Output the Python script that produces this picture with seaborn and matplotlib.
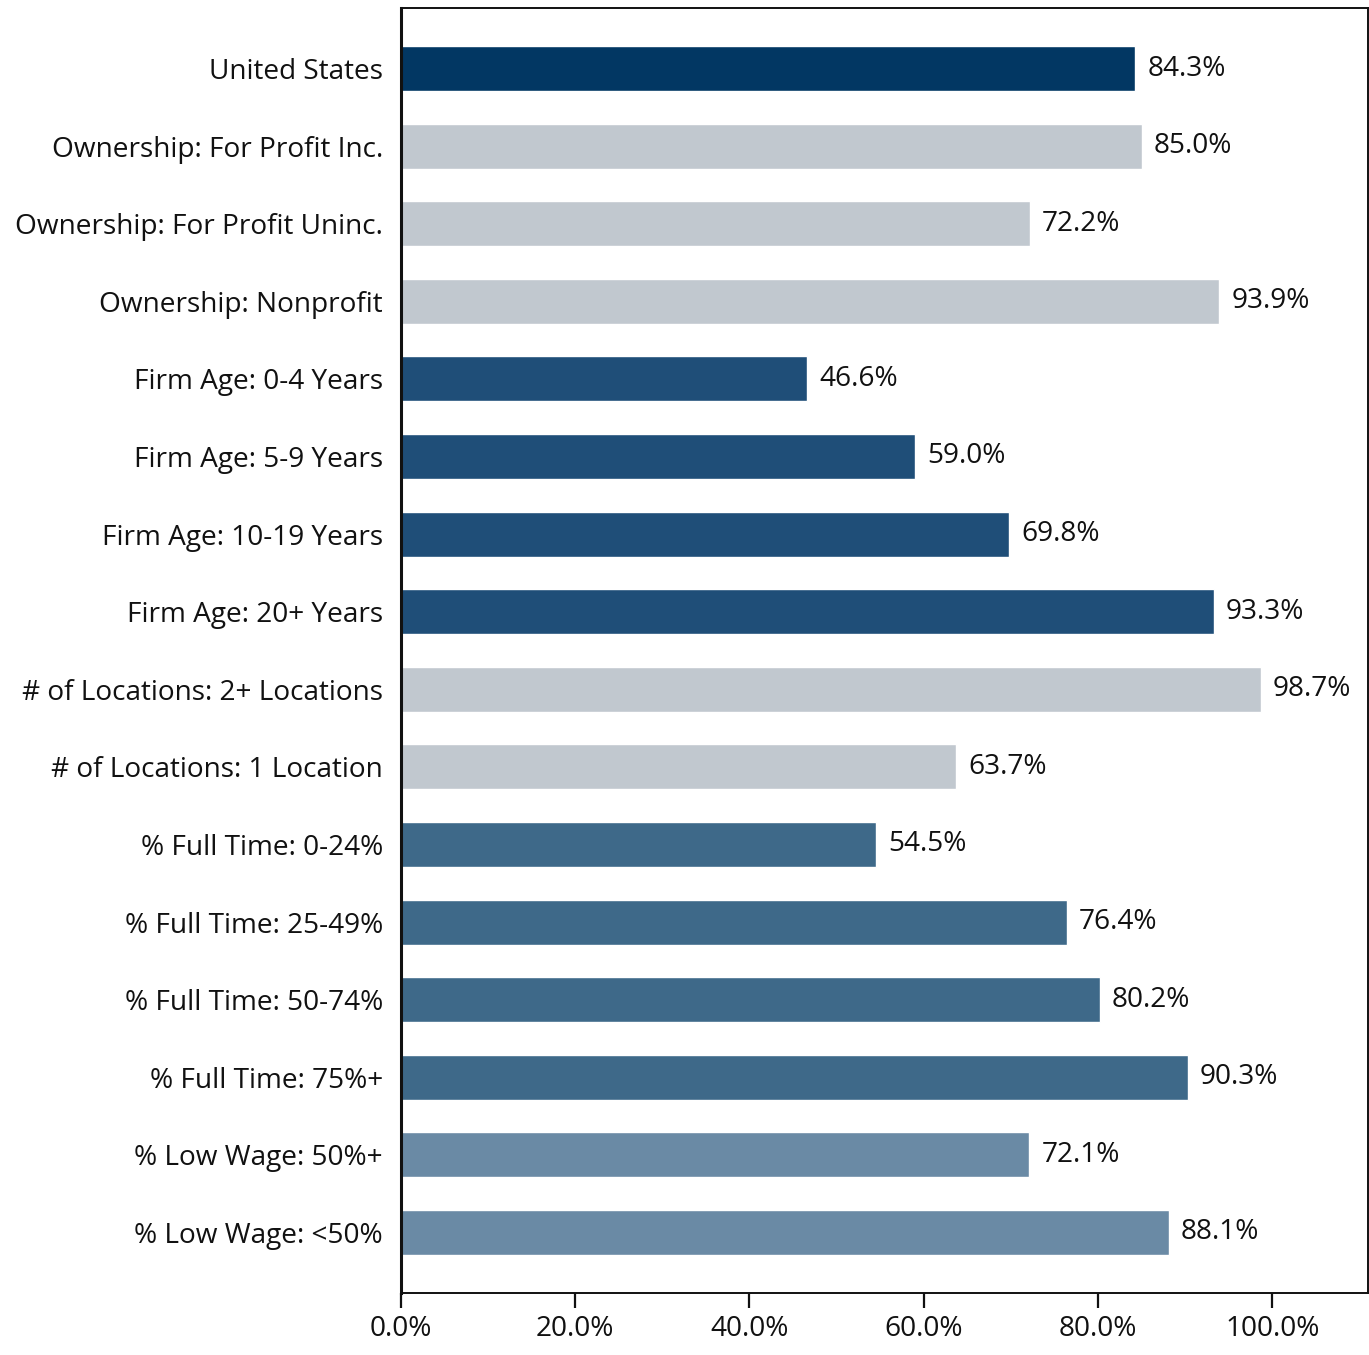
import matplotlib
matplotlib.use("Agg")
import matplotlib.pyplot as plt
import seaborn as sns
import pandas as pd

categories = [
    "United States",
    "Ownership: For Profit Inc.",
    "Ownership: For Profit Uninc.",
    "Ownership: Nonprofit",
    "Firm Age: 0-4 Years",
    "Firm Age: 5-9 Years",
    "Firm Age: 10-19 Years",
    "Firm Age: 20+ Years",
    "# of Locations: 2+ Locations",
    "# of Locations: 1 Location",
    "% Full Time: 0-24%",
    "% Full Time: 25-49%",
    "% Full Time: 50-74%",
    "% Full Time: 75%+",
    "% Low Wage: 50%+",
    "% Low Wage: <50%",
]
values = [84.3, 85.0, 72.2, 93.9, 46.6, 59.0, 69.8, 93.3, 98.7, 63.7,
          54.5, 76.4, 80.2, 90.3, 72.1, 88.1]
groups = ["US", "Gray", "Gray", "Gray", "Age", "Age", "Age", "Age", "Gray", "Gray",
          "FT", "FT", "FT", "FT", "LW", "LW"]
x_ticks = [0, 20, 40, 60, 80, 100]

group_colors = {
    "US": "#023763",
    "Gray": "#c1c8cf",
    "Age": "#1f4e78",
    "FT": "#3e6989",
    "LW": "#6a8aa5",
}

df = pd.DataFrame({"category": categories, "value": values, "group": groups})
palette = {c: group_colors[g] for c, g in zip(categories, groups)}

sns.set_theme(style="white")
plt.rcParams["font.family"] = ["Open Sans", "DejaVu Sans"]
FS = 20.2

fig = plt.figure(figsize=(13.69, 13.55), dpi=100)
ax = fig.add_axes([0.2929, 0.0458, 0.7064, 0.9483])

sns.barplot(data=df, y="category", x="value", hue="category", palette=palette,
            order=categories, hue_order=categories, legend=False, width=0.58,
            saturation=1, ax=ax)

for i, v in enumerate(values):
    ax.text(v + 1.4, i, f"{v:.1f}%", va="center", ha="left", fontsize=FS,
            color="#111111")

ax.set_xlim(0, 111)
ax.set_ylim(15.78, -0.78)
ax.set_xticks(x_ticks)
ax.set_xticklabels([f"{t:.1f}%" for t in x_ticks], fontsize=FS, color="#111111")
ax.tick_params(axis="y", length=0, pad=13, labelsize=FS, labelcolor="#111111")
ax.tick_params(axis="x", bottom=True, length=11, width=1.6, direction="out",
               color="#111111", pad=5)
ax.set_xlabel("")
ax.set_ylabel("")

for side, spine in ax.spines.items():
    spine.set_visible(True)
    spine.set_color("#111111")
    spine.set_linewidth(1.4)
ax.spines["left"].set_linewidth(2.2)

fig.savefig("out.png", dpi=100)
